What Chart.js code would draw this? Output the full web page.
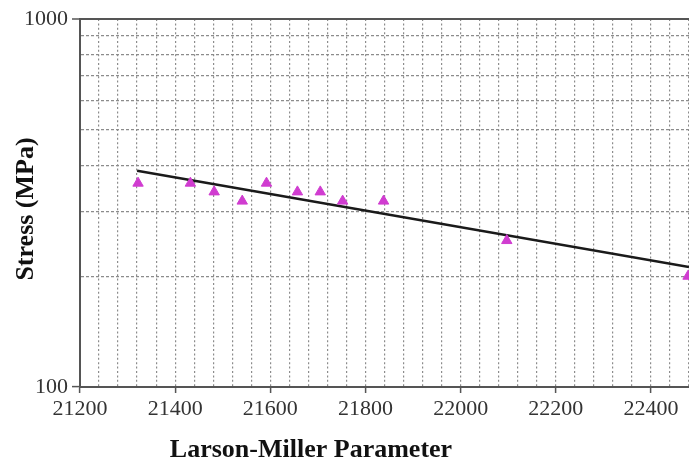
<!DOCTYPE html>
<html>
<head>
<meta charset="utf-8">
<script src="https://cdn.jsdelivr.net/npm/chart.js@4/dist/chart.umd.min.js"></script>
<style>
body{margin:0;background:#fff;}
canvas{display:block;}
</style>
</head>
<body>
<canvas id="lmpChart" width="689" height="463"></canvas>
<script>
// rupture data: Larson-Miller parameter vs stress
const lmpValues = [21322, 21432, 21482, 21541, 21592, 21657, 21705, 21752, 21838, 22097, 22478];
const stressValues = [358, 358, 339, 320, 358, 339, 339, 320, 320, 250, 200];

// fitted trend line end points
const fitLmp = [21320, 22480];
const fitStress = [387, 212];

// stress grid lines (log decade 100..1000) and the labelled ones
const yGridTicks = [100, 200, 300, 400, 500, 600, 700, 800, 900, 1000];
const yLabelTicks = [100, 1000];
const xMajorStep = 200;

const serif = "'Liberation Serif', 'Times New Roman', serif";

const axisTitles = {
  id: "axisTitles",
  beforeDraw(chart){
    const c = chart.ctx;
    c.save();
    c.fillStyle = "#fff";
    c.fillRect(0, 0, chart.width, chart.height);
    c.restore();
  },
  afterDraw(chart){
    const c = chart.ctx;
    c.save();
    c.fillStyle = "#111";
    c.font = "bold 26px " + serif;
    c.textAlign = "center";
    c.textBaseline = "alphabetic";
    c.fillText("Larson-Miller Parameter", 311, 457);
    c.translate(33, 209);
    c.rotate(-Math.PI/2);
    c.fillText("Stress (MPa)", 0, 0);
    c.restore();
  }
};

new Chart(document.getElementById("lmpChart"), {
  type: "scatter",
  data: {
    datasets: [
      {
        label: "fit",
        data: fitLmp.map((x, i) => ({x: x, y: fitStress[i]})),
        showLine: true,
        borderColor: "#1a1a1a",
        borderWidth: 2.5,
        pointRadius: 0,
        order: 2
      },
      {
        label: "data",
        data: lmpValues.map((x, i) => ({x: x, y: stressValues[i]})),
        pointStyle: "triangle",
        pointRadius: 6,
        backgroundColor: "#d03cd0",
        borderColor: "#d03cd0",
        borderWidth: 1,
        order: 1
      }
    ]
  },
  options: {
    responsive: false,
    devicePixelRatio: 1,
    animation: false,
    layout: {autoPadding: false, padding: {top: 19, right: 0, left: 0, bottom: 0}},
    plugins: {
      legend: {display: false},
      tooltip: {enabled: false}
    },
    scales: {
      x: {
        type: "linear",
        min: 21200,
        max: 22480,
        afterFit(scale){
          scale.height = 76;
          scale.paddingRight = 0;
        },
        ticks: {
          stepSize: 40,
          autoSkip: false,
          maxRotation: 0,
          padding: 3,
          color: "#333",
          font: {family: serif, size: 22},
          callback: v => (v % xMajorStep === 0 ? String(v) : "")
        },
        grid: {
          color: "#8c8c8c",
          lineWidth: 1.2,
          tickLength: 6,
          tickWidth: 1.5,
          tickColor: ctx => (ctx.tick && ctx.tick.value % xMajorStep === 0 ? "#555" : "rgba(0,0,0,0)")
        },
        border: {
          color: "#555",
          width: 2,
          dash: [2, 2.4]
        }
      },
      y: {
        type: "logarithmic",
        min: 100,
        max: 1000,
        afterFit(scale){ scale.width = 80; },
        afterBuildTicks(scale){
          scale.ticks = yGridTicks.map(v => ({value: v, major: yLabelTicks.includes(v)}));
        },
        ticks: {
          autoSkip: false,
          padding: 4,
          color: "#333",
          font: {family: serif, size: 22},
          callback: v => (yLabelTicks.includes(v) ? String(v) : "")
        },
        grid: {
          color: ctx => (ctx.tick && ctx.tick.value === 1000 ? "#555" : (ctx.tick && ctx.tick.value === 100 ? "rgba(0,0,0,0)" : "#8c8c8c")),
          lineWidth: ctx => (ctx.tick && ctx.tick.value === 1000 ? 2 : 1.2),
          tickLength: 8,
          tickWidth: 1.5,
          tickColor: ctx => (ctx.tick && yLabelTicks.includes(ctx.tick.value) ? "#555" : "rgba(0,0,0,0)")
        },
        border: {
          color: "#555",
          width: 2,
          dash: ctx => (ctx.tick && ctx.tick.value === 1000 ? [] : [3, 2])
        }
      }
    }
  },
  plugins: [axisTitles]
});
</script>
</body>
</html>
